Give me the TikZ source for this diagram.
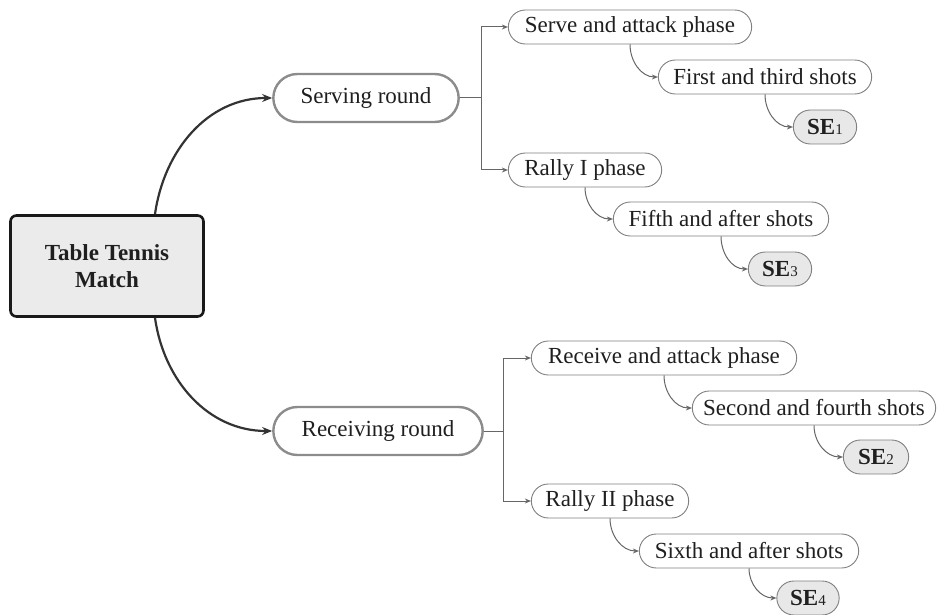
\documentclass[tikz,border=0pt]{standalone}
\usepackage{fontspec}
\setmainfont{Liberation Serif}
\usetikzlibrary{arrows.meta,shapes.misc}

\newcommand{\sesub}[1]{\textbf{SE}{\fontsize{15}{15}\selectfont #1}}

\begin{document}
\begin{tikzpicture}[x=1pt,y=-1pt,
  every node/.style={font=\fontsize{23}{27}\selectfont,text=black!88},
  root/.style={draw=black!90,line width=2.6pt,fill=black!8,rounded corners=6pt,
    minimum width=193pt,minimum height=101pt,align=center,
    font=\fontsize{23}{27}\selectfont\bfseries},
  round/.style={rounded rectangle,draw=black!45,line width=2.4pt,fill=white,
    minimum height=48pt},
  phase/.style={rounded rectangle,draw=black!50,line width=0.9pt,fill=white,
    minimum height=34pt},
  sebox/.style={phase,fill=black!9},
  mainarr/.style={draw=black!80,line width=2.2pt,-{Stealth[length=10pt,width=8pt]}},
  subarr/.style={draw=black!60,line width=1pt,-{Stealth[length=6pt,width=5pt]}},
  subline/.style={draw=black!60,line width=1pt}]
  \useasboundingbox (0,0) rectangle (940,615);

  \node[root] (ttm) at (107,266) {Table Tennis\\Match};

  \node[round,minimum width=192pt] (serv) at (366,98) {Serving round};
  \node[round,minimum width=216pt] (recv) at (378,431) {Receiving round};

  \node[phase,minimum width=250pt] (sap) at (630,27) {Serve and attack phase};
  \node[phase,minimum width=220pt] (fts) at (765,77) {First and third shots};
  \node[sebox,minimum width=70pt] (se1) at (825,127) {\sesub{1}};
  \node[phase,minimum width=160pt] (ra1) at (585,170) {Rally I phase};
  \node[phase,minimum width=222pt] (fas) at (721,219) {Fifth and after shots};
  \node[sebox,minimum width=70pt] (se3) at (780,269) {\sesub{3}};

  \node[phase,minimum width=272pt] (rap) at (664,358) {Receive and attack phase};
  \node[phase,minimum width=250pt] (sfs) at (814,408) {Second and fourth shots};
  \node[sebox,minimum width=72pt] (se2) at (876,457) {\sesub{2}};
  \node[phase,minimum width=164pt] (ra2) at (610,501) {Rally II phase};
  \node[phase,minimum width=226pt] (sas) at (749,551) {Sixth and after shots};
  \node[sebox,minimum width=69pt] (se4) at (808,598) {\sesub{4}};

  \draw[mainarr] ([xshift=48pt]ttm.north) to[out=82,in=180] (serv.west);
  \draw[mainarr] ([xshift=48pt]ttm.south) to[out=-82,in=180] (recv.west);

  \draw[subline] (serv.east) -- ++(22,0) coordinate (sb);
  \draw[subarr] (sb) |- (sap.west);
  \draw[subarr] (sb) |- (ra1.west);
  \draw[subline] (recv.east) -- ++(20,0) coordinate (rb);
  \draw[subarr] (rb) |- (rap.west);
  \draw[subarr] (rb) |- (ra2.west);

  \draw[subarr] (sap.south) to[out=-90,in=180] (fts.west);
  \draw[subarr] (fts.south) to[out=-90,in=180] (se1.west);
  \draw[subarr] (ra1.south) to[out=-90,in=180] (fas.west);
  \draw[subarr] (fas.south) to[out=-90,in=180] (se3.west);
  \draw[subarr] (rap.south) to[out=-90,in=180] (sfs.west);
  \draw[subarr] (sfs.south) to[out=-90,in=180] (se2.west);
  \draw[subarr] (ra2.south) to[out=-90,in=180] (sas.west);
  \draw[subarr] (sas.south) to[out=-90,in=180] (se4.west);
\end{tikzpicture}
\end{document}
